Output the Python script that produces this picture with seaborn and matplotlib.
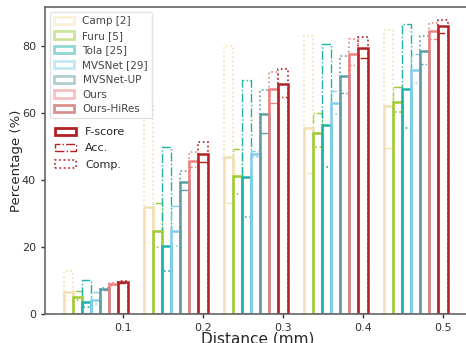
import matplotlib
matplotlib.use("Agg")
import matplotlib.pyplot as plt
from matplotlib.patches import Patch
import seaborn as sns
import pandas as pd

distances = ["0.1", "0.2", "0.3", "0.4", "0.5"]
methods = ["Camp [2]", "Furu [5]", "Tola [25]", "MVSNet [29]", "MVSNet-UP", "Ours", "Ours-HiRes"]
colors = ["#f5deb3", "#9acd32", "#20b2aa", "#87ceeb", "#5f9ea0", "#f08080", "#b22222"]

fscore = {
    "Camp [2]":    [6.5, 31.8, 46.8, 55.4, 62.1],
    "Furu [5]":    [5.2, 24.9, 41.3, 53.9, 63.4],
    "Tola [25]":   [3.5, 20.4, 40.8, 56.4, 67.2],
    "MVSNet [29]": [4.1, 24.9, 47.7, 62.9, 72.7],
    "MVSNet-UP":   [7.5, 39.3, 59.7, 71.0, 78.4],
    "Ours":        [8.9, 45.7, 67.2, 77.7, 84.3],
    "Ours-HiRes":  [9.5, 47.7, 68.7, 79.3, 85.8],
}
acc = {
    "Camp [2]":    [4.2, 21.4, 33.2, 42.2, 49.6],
    "Furu [5]":    [6.9, 33.2, 49.3, 59.9, 67.7],
    "Tola [25]":   [10.1, 49.9, 69.9, 80.5, 86.5],
    "MVSNet [29]": [6.6, 32.3, 48.5, 66.6, 77.5],
    "MVSNet-UP":   [7.1, 37.0, 54.1, 65.9, 74.6],
    "Ours":        [8.6, 43.8, 62.9, 74.3, 82.0],
    "Ours-HiRes":  [9.2, 45.4, 64.7, 76.3, 84.0],
}
comp = {
    "Camp [2]":    [12.9, 64.4, 80.0, 83.1, 84.8],
    "Furu [5]":    [4.2, 20.0, 35.8, 49.7, 60.4],
    "Tola [25]":   [2.1, 12.8, 29.0, 43.9, 55.6],
    "MVSNet [29]": [3.0, 20.4, 46.8, 59.8, 68.9],
    "MVSNet-UP":   [7.9, 42.7, 66.7, 77.1, 83.1],
    "Ours":        [9.2, 48.3, 72.3, 82.0, 86.8],
    "Ours-HiRes":  [9.8, 51.3, 73.1, 82.6, 87.6],
}

rows = []
for m in methods:
    for i, d in enumerate(distances):
        rows.append({"distance": d, "method": m,
                     "F": fscore[m][i], "Acc": acc[m][i], "Comp": comp[m][i]})
df = pd.DataFrame(rows)

sns.set_style("ticks")
plt.rcParams["font.family"] = ["DejaVu Sans"]

W, H = 466, 343
fig = plt.figure(figsize=(W / 100, H / 100), dpi=100)
ax_left, ax_bottom, ax_top, ax_right = 45, 29, 6.7, 470
ax = fig.add_axes([ax_left / W, ax_bottom / H, (ax_right - ax_left) / W, (H - ax_top - ax_bottom) / H])

common = dict(data=df, x="distance", hue="method", order=distances, hue_order=methods,
              palette=colors, saturation=1, fill=False, errorbar=None, legend=False,
              ax=ax, gap=0)
sns.barplot(y="Acc", linestyle="-.", linewidth=1.0, **common)
sns.barplot(y="Comp", linestyle=":", linewidth=1.2, **common)
sns.barplot(y="F", linestyle="-", linewidth=1.8, **common)

bw = 0.8 / len(methods)
offset = 3 * bw
ticks = [i + offset for i in range(len(distances))]
ax.set_xticks(ticks, distances)
ax.set_xlim(ticks[0] - 0.975, ticks[0] - 0.975 + (ax_right - ax_left) / 80)
ax.set_ylim(0, 91.7)
ax.set_yticks([0, 20, 40, 60, 80])
ax.tick_params(labelsize=8, colors="#333333", length=3, width=1)
for s in ["left", "bottom", "top", "right"]:
    ax.spines[s].set_color("#666666")
    ax.spines[s].set_linewidth(1.2)

ax.set_xlabel("Distance (mm)", fontsize=11, labelpad=-1)
ax.set_ylabel("Percentage (%)", fontsize=9.5, labelpad=-1)

h1 = [Patch(facecolor="none", edgecolor=c, linewidth=2, alpha=0.5, label=m)
      for m, c in zip(methods, colors)]
leg1 = ax.legend(handles=h1, loc="upper left", fontsize=7.5, labelspacing=0.45,
                 handlelength=1.9, frameon=True, edgecolor="#dddddd", framealpha=0.8)
for t in leg1.get_texts():
    t.set_color("#444444")
ax.add_artist(leg1)

h2 = [Patch(facecolor="none", edgecolor="#b22222", linewidth=2, linestyle="-", label="F-score"),
      Patch(facecolor="none", edgecolor="#b22222", linewidth=1, linestyle="-.", label="Acc."),
      Patch(facecolor="none", edgecolor="#b22222", linewidth=1.2, linestyle=":", label="Comp.")]
ax.legend(handles=h2, loc="upper left", bbox_to_anchor=(0, 0.64), fontsize=8,
          labelspacing=0.55, handlelength=1.9, frameon=False)

fig.savefig("out.png", dpi=100)
